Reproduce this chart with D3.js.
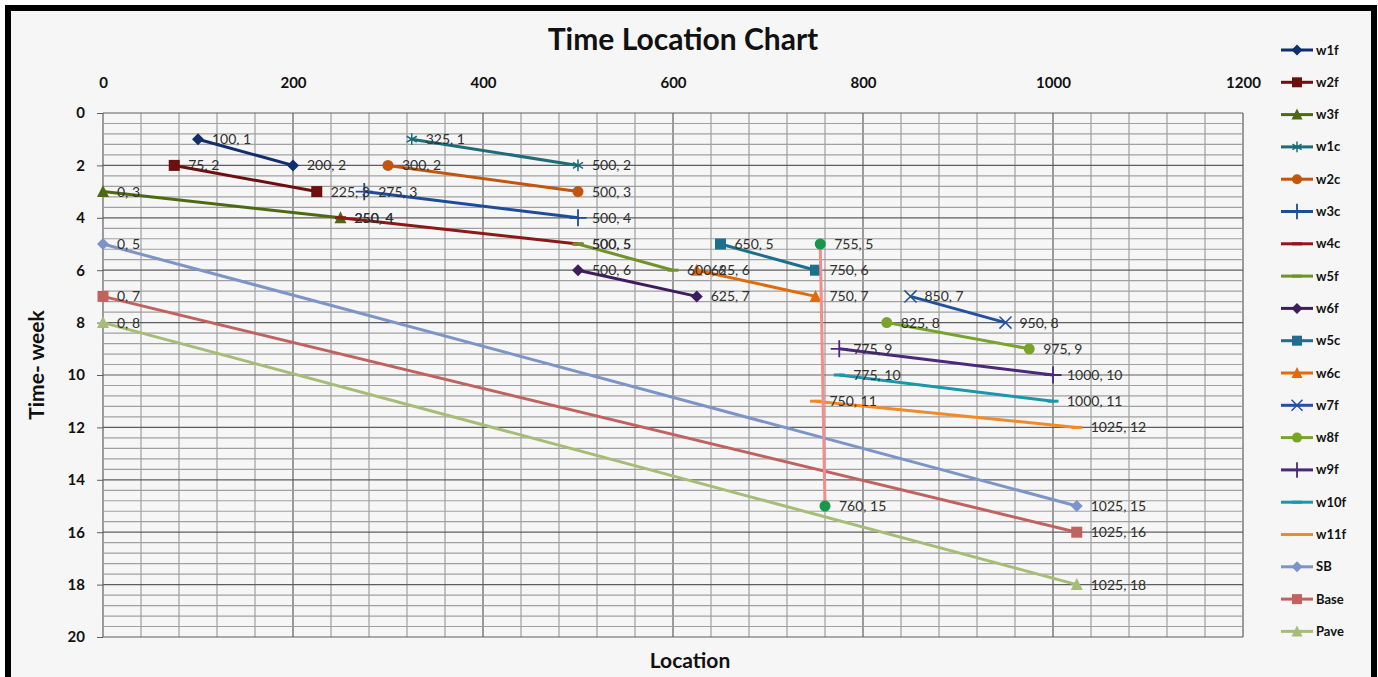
<!DOCTYPE html>
<html><head><meta charset="utf-8">
<script src="https://cdn.jsdelivr.net/npm/d3@7"></script>
<style>
html,body{margin:0;padding:0;background:#fff;}
svg{display:block;font-family:Lato,"Open Sans",sans-serif;}
</style></head>
<body><svg id="c" width="1378" height="677"></svg>
<script>
// ---- data ----
const seriesNames = ["w1f","w2f","w3f","w1c","w2c","w3c","w4c","w5f","w6f","w5c","w6c","w7f","w8f","w9f","w10f","w11f","SB","Base","Pave"];
const startLocation = [100, 75,   0, 325, 300, 275, 250, 500, 500, 650, 625, 850, 825, 775,  775,  750,    0,    0,    0];
const endLocation   = [200,225, 250, 500, 500, 500, 500, 600, 625, 750, 750, 950, 975,1000, 1000, 1025, 1025, 1025, 1025];
const startWeek     = [  1,  2,   3,   1,   2,   3,   4,   5,   6,   5,   6,   7,   8,   9,   10,   11,    5,    7,    8];
const endWeek       = [  2,  3,   4,   2,   3,   4,   5,   6,   7,   6,   7,   8,   9,  10,   11,   12,   15,   16,   18];
const checkLocation = [755, 760];
const checkWeek     = [5, 15];
const xTicks = [0,200,400,600,800,1000,1200];
const yTicks = [0,2,4,6,8,10,12,14,16,18,20];

// ---- styles ----
const colors = ["#112f6e","#6e0f0f","#4d6a12","#1d6c78","#c0560f","#1f4c98","#8e1717","#6f922a","#3e1d5c","#1c6f8d","#e06b0c","#2450a0","#78a42c","#4a2a78","#1a97a8","#f08a2a","#7c94c8","#c0625f","#a6bd78"];
const markers = ["diamond","square","triangle","asterisk","circle","plus","dash","dash","diamond","square","triangle","x","circle","plus","dash","dash","diamond","square","triangle"];

const svg = d3.select("#c");
svg.append("rect").attr("x",0).attr("y",0).attr("width",1378).attr("height",677).attr("fill","#ffffff");
svg.append("rect").attr("x",8).attr("y",8).attr("width",1366).attr("height",700)
  .attr("fill","#f6f6f6").attr("stroke","#000").attr("stroke-width",6);

const x = d3.scaleLinear().domain([0,1200]).range([103,1243]);
const y = d3.scaleLinear().domain([0,20]).range([113,637]);

// grid
const g = svg.append("g");
const minorX = d3.range(0,1200.1,40), minorY = d3.range(0,20.01,0.4);
g.selectAll("line.mx").data(minorX).join("line")
  .attr("x1",d=>x(d)).attr("x2",d=>x(d)).attr("y1",y(0)).attr("y2",y(20))
  .attr("stroke",d=>Math.abs(d%200)<1e-6?"#5e5e5e":"#a0a0a0").attr("stroke-width",1.2);
g.selectAll("line.my").data(minorY).join("line")
  .attr("y1",d=>y(d)).attr("y2",d=>y(d)).attr("x1",x(0)).attr("x2",x(1200))
  .attr("stroke",d=>Math.abs(Math.round(d*10)%20)<1e-6?"#5e5e5e":"#a0a0a0").attr("stroke-width",1.2);

// axes
const topAxis = svg.append("g").attr("transform",`translate(0,${y(0)})`)
  .call(d3.axisTop(x).tickValues(xTicks).tickSize(0).tickPadding(25).tickFormat(d3.format("d")));
topAxis.select(".domain").remove();
topAxis.selectAll("text").attr("font-size",15).attr("font-weight","bold").attr("fill","#111").attr("font-family","Lato,sans-serif");
const leftAxis = svg.append("g").attr("transform",`translate(${x(0)},0)`)
  .call(d3.axisLeft(y).tickValues(yTicks).tickSize(6).tickPadding(12).tickFormat(d3.format("d")));
leftAxis.select(".domain").remove();
leftAxis.selectAll("line").attr("stroke","#5e5e5e");
leftAxis.selectAll("text").attr("font-size",15).attr("font-weight","bold").attr("fill","#111").attr("font-family","Lato,sans-serif");

// titles
svg.append("text").attr("x",683).attr("y",50).attr("text-anchor","middle")
  .attr("font-size",30).attr("font-weight","bold").attr("fill","#111").text("Time Location Chart");
svg.append("text").attr("x",690).attr("y",668).attr("text-anchor","middle")
  .attr("font-size",21).attr("font-weight","bold").attr("fill","#111").text("Location");
svg.append("text").attr("transform","translate(44,365) rotate(-90)").attr("text-anchor","middle")
  .attr("font-size",21).attr("font-weight","bold").attr("fill","#111").text("Time- week");

function drawMarker(sel, type, color, cx, cy, s){
  const gm = sel.append("g").attr("transform",`translate(${cx},${cy})`);
  const h = s/2;
  if(type==="diamond") gm.append("path").attr("d",`M0,${-h-0.5}L${h+0.5},0L0,${h+0.5}L${-h-0.5},0Z`).attr("fill",color);
  else if(type==="square") gm.append("rect").attr("x",-h).attr("y",-h).attr("width",s).attr("height",s).attr("fill",color);
  else if(type==="triangle") gm.append("path").attr("d",`M0,${-h-1}L${h+0.5},${h}L${-h-0.5},${h}Z`).attr("fill",color);
  else if(type==="circle") gm.append("circle").attr("r",h).attr("fill",color);
  else if(type==="asterisk") gm.append("path").attr("d",d3.symbol(d3.symbolAsterisk, s*s*0.8)()).attr("fill","none").attr("stroke",color).attr("stroke-width",1.5);
  else if(type==="plus") gm.append("path").attr("d",d3.symbol(d3.symbolPlus, s*s*0.8)()).attr("fill","none").attr("stroke",color).attr("stroke-width",1.8);
  else if(type==="x") gm.append("path").attr("d",d3.symbol(d3.symbolX, s*s*0.8)()).attr("fill","none").attr("stroke",color).attr("stroke-width",1.5);
  else if(type==="dash") gm.append("line").attr("x1",-h).attr("x2",h).attr("y1",0).attr("y2",0).attr("stroke",color).attr("stroke-width",3);
}

const line = d3.line().x(d=>x(d[0])).y(d=>y(d[1]));
const series = seriesNames.map((n,i)=>({name:n,i,pts:[[startLocation[i],startWeek[i]],[endLocation[i],endWeek[i]]]}));
const plot = svg.append("g");
series.forEach(s=>{
  plot.append("path").datum(s.pts).attr("d",line).attr("fill","none")
    .attr("stroke",colors[s.i]).attr("stroke-width",3);
  s.pts.forEach(p=>drawMarker(plot, markers[s.i], colors[s.i], x(p[0]), y(p[1]), 11));
});
// check line (not in legend)
const chk = checkLocation.map((l,i)=>[l,checkWeek[i]]);
plot.append("path").datum(chk).attr("d",line).attr("fill","none").attr("stroke","#f08d8d").attr("stroke-width",3);
chk.forEach(p=>drawMarker(plot,"circle","#17964c",x(p[0]),y(p[1]),11));

// labels
const labels = svg.append("g").attr("font-size",14).attr("fill","#303030");
series.forEach(s=>s.pts.forEach(p=>{
  labels.append("text").attr("x",x(p[0])+14).attr("y",y(p[1])).attr("dy","0.35em").text(`${p[0]}, ${p[1]}`);
}));
chk.forEach(p=>labels.append("text").attr("x",x(p[0])+14).attr("y",y(p[1])).attr("dy","0.35em").text(`${p[0]}, ${p[1]}`));

// legend
const lg = svg.append("g");
seriesNames.forEach((n,i)=>{
  const ly = 50 + i*32.3;
  lg.append("line").attr("x1",1281).attr("x2",1313).attr("y1",ly).attr("y2",ly).attr("stroke",colors[i]).attr("stroke-width",3);
  drawMarker(lg, markers[i], colors[i], 1297, ly, 10);
  lg.append("text").attr("x",1316).attr("y",ly).attr("dy","0.35em").attr("font-size",13).attr("font-weight","bold").attr("fill","#111").text(n);
});
</script></body></html>
